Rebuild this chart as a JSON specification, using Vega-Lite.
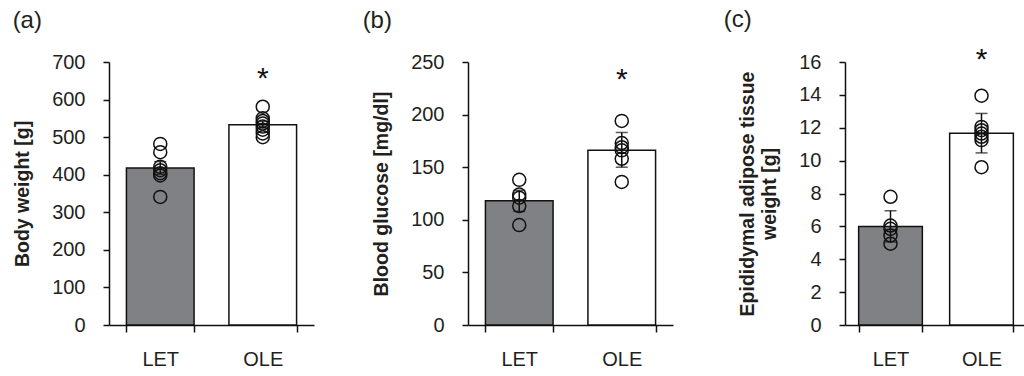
{
  "$schema": "https://vega.github.io/schema/vega-lite/v6.json",
  "padding": {"left": 12, "top": 8, "right": 0, "bottom": 0},
  "background": "white",
  "datasets": {
    "bars": [
      {"panel": "a", "group": "LET", "mean": 418, "lo": 401, "hi": 435},
      {"panel": "a", "group": "OLE", "mean": 533, "lo": 524, "hi": 542},
      {"panel": "b", "group": "LET", "mean": 118, "lo": 108, "hi": 128},
      {"panel": "b", "group": "OLE", "mean": 166, "lo": 150, "hi": 183},
      {"panel": "c", "group": "LET", "mean": 6.0, "lo": 5.05, "hi": 6.95},
      {"panel": "c", "group": "OLE", "mean": 11.66, "lo": 10.47, "hi": 12.87}
    ],
    "points": [
      {"panel": "a", "group": "LET", "value": 482},
      {"panel": "a", "group": "LET", "value": 460},
      {"panel": "a", "group": "LET", "value": 421},
      {"panel": "a", "group": "LET", "value": 412},
      {"panel": "a", "group": "LET", "value": 404},
      {"panel": "a", "group": "LET", "value": 398},
      {"panel": "a", "group": "LET", "value": 341},
      {"panel": "a", "group": "OLE", "value": 581},
      {"panel": "a", "group": "OLE", "value": 550},
      {"panel": "a", "group": "OLE", "value": 543},
      {"panel": "a", "group": "OLE", "value": 536},
      {"panel": "a", "group": "OLE", "value": 528},
      {"panel": "a", "group": "OLE", "value": 520},
      {"panel": "a", "group": "OLE", "value": 510},
      {"panel": "a", "group": "OLE", "value": 500},
      {"panel": "b", "group": "LET", "value": 138},
      {"panel": "b", "group": "LET", "value": 124},
      {"panel": "b", "group": "LET", "value": 121},
      {"panel": "b", "group": "LET", "value": 113},
      {"panel": "b", "group": "LET", "value": 95},
      {"panel": "b", "group": "OLE", "value": 194},
      {"panel": "b", "group": "OLE", "value": 173},
      {"panel": "b", "group": "OLE", "value": 169},
      {"panel": "b", "group": "OLE", "value": 166},
      {"panel": "b", "group": "OLE", "value": 158},
      {"panel": "b", "group": "OLE", "value": 136},
      {"panel": "c", "group": "LET", "value": 7.8},
      {"panel": "c", "group": "LET", "value": 6.05},
      {"panel": "c", "group": "LET", "value": 5.85},
      {"panel": "c", "group": "LET", "value": 5.45},
      {"panel": "c", "group": "LET", "value": 4.95},
      {"panel": "c", "group": "OLE", "value": 13.95},
      {"panel": "c", "group": "OLE", "value": 12.05},
      {"panel": "c", "group": "OLE", "value": 11.85},
      {"panel": "c", "group": "OLE", "value": 11.65},
      {"panel": "c", "group": "OLE", "value": 11.45},
      {"panel": "c", "group": "OLE", "value": 11.25},
      {"panel": "c", "group": "OLE", "value": 9.6}
    ],
    "stars": [
      {"panel": "a", "group": "OLE", "y": 668},
      {"panel": "b", "group": "OLE", "y": 238},
      {"panel": "c", "group": "OLE", "y": 16.4}
    ]
  },
  "config": {
    "font": "Liberation Sans",
    "view": {"stroke": null},
    "axis": {
      "grid": false,
      "domainColor": "#111111",
      "tickColor": "#111111",
      "labelColor": "#231f20",
      "titleColor": "#231f20",
      "labelFontSize": 20,
      "titleFontSize": 19.5,
      "titleFontWeight": "bold",
      "domainWidth": 1.5,
      "tickWidth": 1.5,
      "labelOverlap": false
    },
    "axisX": {"title": null, "labelAngle": 0, "tickBand": "extent", "tickSize": 7, "labelPadding": 17},
    "axisY": {"tickSize": 6, "labelPadding": 18, "titlePadding": 19},
    "title": {"fontSize": 24, "fontWeight": "normal", "anchor": "start", "frame": "bounds", "color": "#231f20", "offset": 22}
  },
  "spacing": 48,
  "hconcat": [
    {
      "width": 205,
      "height": 263,
      "title": {"text": "(a)", "dx": 0, "dy": 3},
      "layer": [
        {
          "data": {"name": "bars"},
          "transform": [{"filter": "datum.panel == 'a'"}],
          "mark": {"type": "bar", "stroke": "#111111", "strokeWidth": 1.5},
          "encoding": {
            "x": {"field": "group", "type": "nominal", "scale": {"paddingInner": 0.34, "paddingOuter": 0.17}},
            "y": {"field": "mean", "type": "quantitative", "scale": {"domain": [0, 700], "nice": false}, "axis": {"title": "Body weight [g]", "values": [0, 100, 200, 300, 400, 500, 600, 700]}},
            "fill": {"field": "group", "type": "nominal", "scale": {"domain": ["LET", "OLE"], "range": ["#808184", "#ffffff"]}, "legend": null}
          }
        },
        {
          "data": {"name": "bars"},
          "transform": [{"filter": "datum.panel == 'a'"}],
          "mark": {"type": "rule", "color": "#111111", "strokeWidth": 1.5},
          "encoding": {"x": {"field": "group", "type": "nominal"}, "y": {"field": "lo", "type": "quantitative", "axis": {"title": "Body weight [g]", "values": [0, 100, 200, 300, 400, 500, 600, 700]}}, "y2": {"field": "hi"}}
        },
        {
          "data": {"name": "bars"},
          "transform": [{"filter": "datum.panel == 'a'"}],
          "mark": {"type": "tick", "color": "#111111", "thickness": 1.5, "size": 12},
          "encoding": {"x": {"field": "group", "type": "nominal"}, "y": {"field": "hi", "type": "quantitative", "axis": {"title": "Body weight [g]", "values": [0, 100, 200, 300, 400, 500, 600, 700]}}}
        },
        {
          "data": {"name": "bars"},
          "transform": [{"filter": "datum.panel == 'a'"}],
          "mark": {"type": "tick", "color": "#111111", "thickness": 1.5, "size": 12},
          "encoding": {"x": {"field": "group", "type": "nominal"}, "y": {"field": "lo", "type": "quantitative", "axis": {"title": "Body weight [g]", "values": [0, 100, 200, 300, 400, 500, 600, 700]}}}
        },
        {
          "data": {"name": "points"},
          "transform": [{"filter": "datum.panel == 'a'"}],
          "mark": {"type": "point", "shape": "circle", "filled": false, "size": 169, "stroke": "#111111", "strokeWidth": 1.5, "opacity": 1},
          "encoding": {"x": {"field": "group", "type": "nominal"}, "y": {"field": "value", "type": "quantitative", "axis": {"title": "Body weight [g]", "values": [0, 100, 200, 300, 400, 500, 600, 700]}}}
        },
        {
          "data": {"name": "stars"},
          "transform": [{"filter": "datum.panel == 'a'"}],
          "mark": {"type": "text", "text": "*", "fontSize": 30, "color": "#111111", "baseline": "middle", "dy": 5},
          "encoding": {"x": {"field": "group", "type": "nominal"}, "y": {"field": "y", "type": "quantitative", "axis": {"title": "Body weight [g]", "values": [0, 100, 200, 300, 400, 500, 600, 700]}}}
        }
      ]
    },
    {
      "spacing": 50,
      "hconcat": [
        {
          "width": 205,
          "height": 263,
          "title": {"text": "(b)", "dx": -9, "dy": 3},
          "layer": [
            {
              "data": {"name": "bars"},
              "transform": [{"filter": "datum.panel == 'b'"}],
              "mark": {"type": "bar", "stroke": "#111111", "strokeWidth": 1.5},
              "encoding": {
                "x": {"field": "group", "type": "nominal", "scale": {"paddingInner": 0.34, "paddingOuter": 0.17}},
                "y": {"field": "mean", "type": "quantitative", "scale": {"domain": [0, 250], "nice": false}, "axis": {"title": "Blood glucose [mg/dl]", "values": [0, 50, 100, 150, 200, 250]}},
                "fill": {"field": "group", "type": "nominal", "scale": {"domain": ["LET", "OLE"], "range": ["#808184", "#ffffff"]}, "legend": null}
              }
            },
            {
              "data": {"name": "bars"},
              "transform": [{"filter": "datum.panel == 'b'"}],
              "mark": {"type": "rule", "color": "#111111", "strokeWidth": 1.5},
              "encoding": {"x": {"field": "group", "type": "nominal"}, "y": {"field": "lo", "type": "quantitative", "axis": {"title": "Blood glucose [mg/dl]", "values": [0, 50, 100, 150, 200, 250]}}, "y2": {"field": "hi"}}
            },
            {
              "data": {"name": "bars"},
              "transform": [{"filter": "datum.panel == 'b'"}],
              "mark": {"type": "tick", "color": "#111111", "thickness": 1.5, "size": 12},
              "encoding": {"x": {"field": "group", "type": "nominal"}, "y": {"field": "hi", "type": "quantitative", "axis": {"title": "Blood glucose [mg/dl]", "values": [0, 50, 100, 150, 200, 250]}}}
            },
            {
              "data": {"name": "bars"},
              "transform": [{"filter": "datum.panel == 'b'"}],
              "mark": {"type": "tick", "color": "#111111", "thickness": 1.5, "size": 12},
              "encoding": {"x": {"field": "group", "type": "nominal"}, "y": {"field": "lo", "type": "quantitative", "axis": {"title": "Blood glucose [mg/dl]", "values": [0, 50, 100, 150, 200, 250]}}}
            },
            {
              "data": {"name": "points"},
              "transform": [{"filter": "datum.panel == 'b'"}],
              "mark": {"type": "point", "shape": "circle", "filled": false, "size": 169, "stroke": "#111111", "strokeWidth": 1.5, "opacity": 1},
              "encoding": {"x": {"field": "group", "type": "nominal"}, "y": {"field": "value", "type": "quantitative", "axis": {"title": "Blood glucose [mg/dl]", "values": [0, 50, 100, 150, 200, 250]}}}
            },
            {
              "data": {"name": "stars"},
              "transform": [{"filter": "datum.panel == 'b'"}],
              "mark": {"type": "text", "text": "*", "fontSize": 30, "color": "#111111", "baseline": "middle", "dy": 5},
              "encoding": {"x": {"field": "group", "type": "nominal"}, "y": {"field": "y", "type": "quantitative", "axis": {"title": "Blood glucose [mg/dl]", "values": [0, 50, 100, 150, 200, 250]}}}
            }
          ]
        },
        {
          "width": 182,
          "height": 263,
          "title": {"text": "(c)", "dx": -14, "dy": 9},
          "layer": [
            {
              "data": {"name": "bars"},
              "transform": [{"filter": "datum.panel == 'c'"}],
              "mark": {"type": "bar", "stroke": "#111111", "strokeWidth": 1.5},
              "encoding": {
                "x": {"field": "group", "type": "nominal", "scale": {"paddingInner": 0.3, "paddingOuter": 0.15}},
                "y": {"field": "mean", "type": "quantitative", "scale": {"domain": [0, 16], "nice": false}, "axis": {"title": ["Epididymal adipose tissue", "weight [g]"], "titleLineHeight": 22, "values": [0, 2, 4, 6, 8, 10, 12, 14, 16]}},
                "fill": {"field": "group", "type": "nominal", "scale": {"domain": ["LET", "OLE"], "range": ["#808184", "#ffffff"]}, "legend": null}
              }
            },
            {
              "data": {"name": "bars"},
              "transform": [{"filter": "datum.panel == 'c'"}],
              "mark": {"type": "rule", "color": "#111111", "strokeWidth": 1.5},
              "encoding": {"x": {"field": "group", "type": "nominal"}, "y": {"field": "lo", "type": "quantitative", "axis": {"title": ["Epididymal adipose tissue", "weight [g]"], "titleLineHeight": 22, "values": [0, 2, 4, 6, 8, 10, 12, 14, 16]}}, "y2": {"field": "hi"}}
            },
            {
              "data": {"name": "bars"},
              "transform": [{"filter": "datum.panel == 'c'"}],
              "mark": {"type": "tick", "color": "#111111", "thickness": 1.5, "size": 12},
              "encoding": {"x": {"field": "group", "type": "nominal"}, "y": {"field": "hi", "type": "quantitative", "axis": {"title": ["Epididymal adipose tissue", "weight [g]"], "titleLineHeight": 22, "values": [0, 2, 4, 6, 8, 10, 12, 14, 16]}}}
            },
            {
              "data": {"name": "bars"},
              "transform": [{"filter": "datum.panel == 'c'"}],
              "mark": {"type": "tick", "color": "#111111", "thickness": 1.5, "size": 12},
              "encoding": {"x": {"field": "group", "type": "nominal"}, "y": {"field": "lo", "type": "quantitative", "axis": {"title": ["Epididymal adipose tissue", "weight [g]"], "titleLineHeight": 22, "values": [0, 2, 4, 6, 8, 10, 12, 14, 16]}}}
            },
            {
              "data": {"name": "points"},
              "transform": [{"filter": "datum.panel == 'c'"}],
              "mark": {"type": "point", "shape": "circle", "filled": false, "size": 169, "stroke": "#111111", "strokeWidth": 1.5, "opacity": 1},
              "encoding": {"x": {"field": "group", "type": "nominal"}, "y": {"field": "value", "type": "quantitative", "axis": {"title": ["Epididymal adipose tissue", "weight [g]"], "titleLineHeight": 22, "values": [0, 2, 4, 6, 8, 10, 12, 14, 16]}}}
            },
            {
              "data": {"name": "stars"},
              "transform": [{"filter": "datum.panel == 'c'"}],
              "mark": {"type": "text", "text": "*", "fontSize": 30, "color": "#111111", "baseline": "middle", "dy": 5, "clip": false},
              "encoding": {"x": {"field": "group", "type": "nominal"}, "y": {"field": "y", "type": "quantitative", "axis": {"title": ["Epididymal adipose tissue", "weight [g]"], "titleLineHeight": 22, "values": [0, 2, 4, 6, 8, 10, 12, 14, 16]}}}
            }
          ]
        }
      ]
    }
  ]
}
